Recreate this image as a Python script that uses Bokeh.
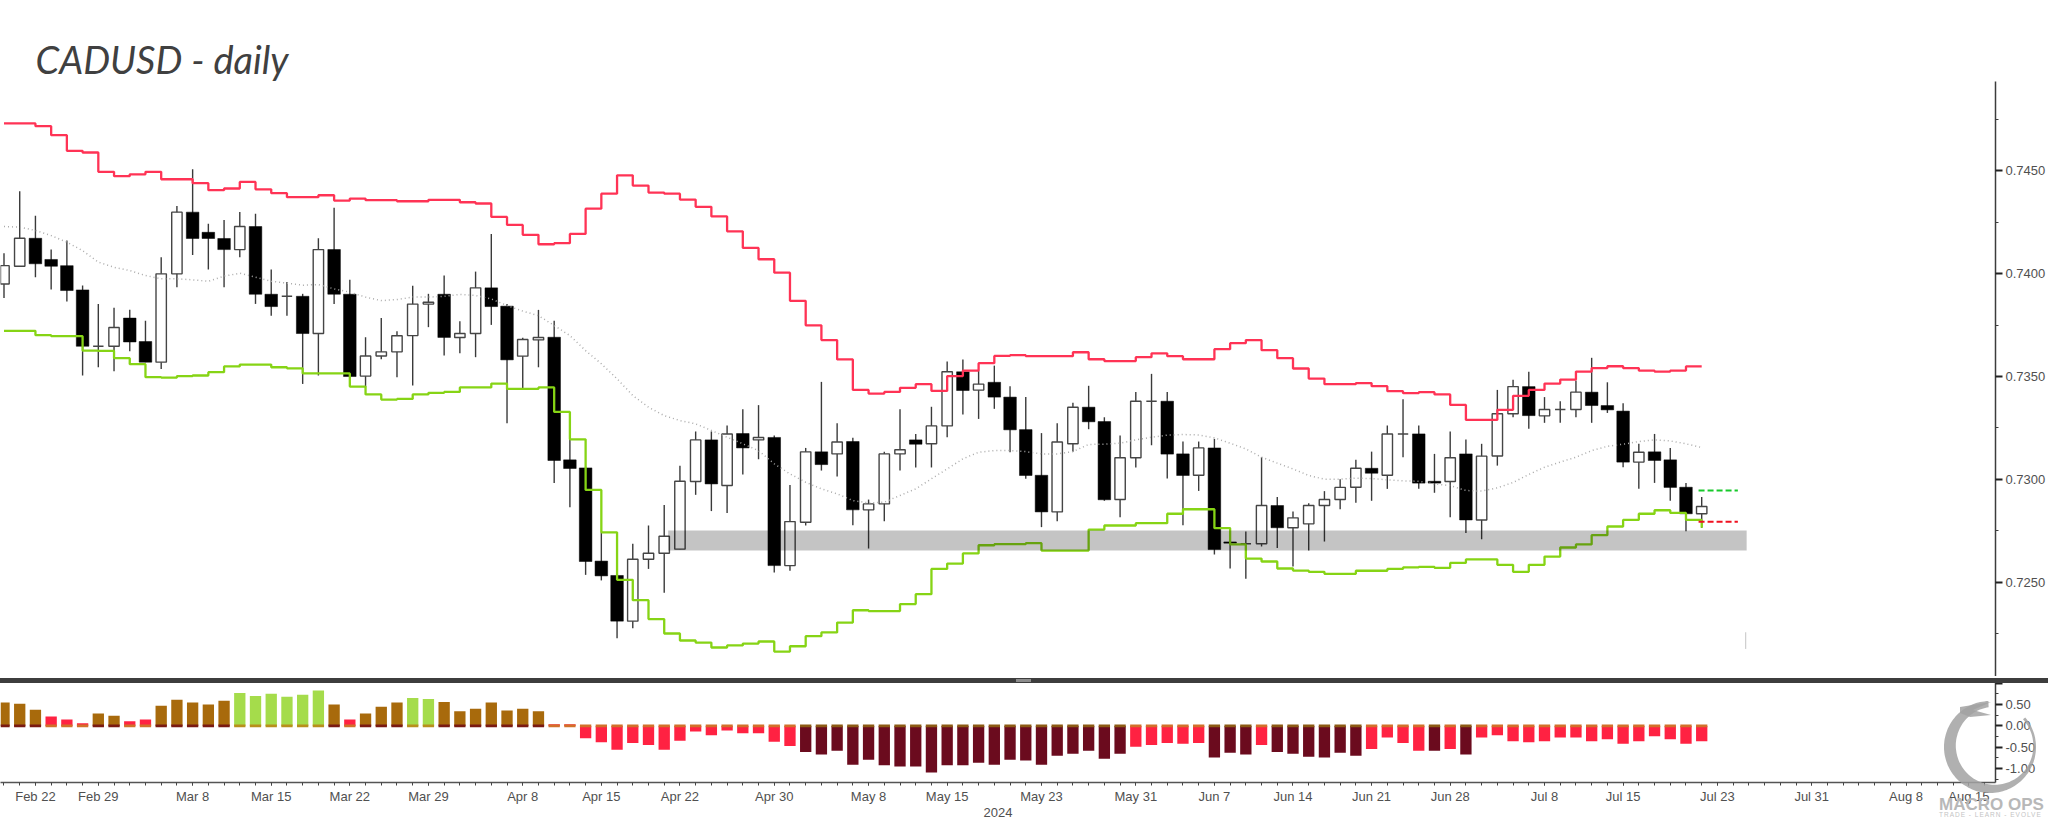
import numpy as np
from bokeh.embed import file_html
from bokeh.resources import INLINE
from bokeh.plotting import figure
from bokeh.layouts import column
from bokeh.models import (ColumnDataSource, FixedTicker, Div, NumeralTickFormatter, Range1d)

# ---------- data ----------
title_text = "CADUSD - daily"

open_ = [.73950,.74036,.74172,.74069,.74039,.73921,.73647,.73647,.73784,.73670,
 .73570,.73999,.74299,.74201,.74171,.74117,.74229,.73900,.73890,.73890,
 .73709,.74117,.73900,.73502,.73600,.73620,.73699,.73852,.73900,.73690,
 .73709,.73931,.73842,.73599,.73678,.73691,.73095,.73056,.72603,.72533,
 .72311,.72612,.72641,.72661,.72990,.73192,.72970,.73223,.73192,.73204,
 .72581,.72792,.73134,.73124,.73184,.72852,.72881,.73124,.73192,.73173,
 .73260,.73523,.73434,.73472,.73400,.73242,.73020,.72842,.73173,.73351,
 .73281,.72902,.73105,.73380,.73380,.73124,.73020,.73153,.72696,.72687,
 .72687,.72873,.72765,.72784,.72873,.72902,.72962,.73054,.73020,.73221,
 .73221,.72991,.72990,.73124,.72803,.73114,.73319,.73451,.73309,.73340,
 .73340,.73424,.73359,.73332,.73084,.73134,.73095,.72962,.72833]
high = [.74099,.74401,.74282,.74117,.74161,.73942,.73853,.73834,.73824,.73771,
 .74080,.74329,.74508,.74242,.74261,.74300,.74291,.74020,.73960,.73902,
 .74172,.74320,.73971,.73691,.73784,.73720,.73941,.73902,.73991,.73769,
 .74010,.74193,.73853,.73688,.73824,.73771,.73197,.73062,.72743,.72533,
 .72687,.72776,.72876,.73066,.73233,.73233,.73262,.73341,.73361,.73213,
 .72973,.73153,.73474,.73273,.73202,.72902,.73135,.73341,.73221,.73353,
 .73573,.73583,.73529,.73553,.73453,.73400,.73225,.73273,.73372,.73455,
 .73302,.73213,.73425,.73513,.73425,.73184,.73184,.73197,.72765,.72747,
 .73108,.72914,.72844,.72884,.72943,.73001,.73095,.73135,.73262,.73390,
 .73262,.73124,.73233,.73194,.73173,.73435,.73484,.73523,.73400,.73380,
 .73481,.73591,.73472,.73370,.73173,.73221,.73153,.72983,.72914]
low = [.73882,.74035,.73983,.73923,.73865,.73505,.73545,.73526,.73623,.73570,
 .73536,.73934,.74091,.74020,.73934,.74080,.73853,.73795,.73795,.73464,
 .73505,.73853,.73500,.73448,.73584,.73497,.73456,.73740,.73602,.73613,
 .73594,.73751,.73273,.73443,.73545,.72983,.72865,.72536,.72509,.72228,
 .72277,.72565,.72449,.72661,.72925,.72846,.72837,.73024,.73098,.72547,
 .72556,.72776,.73043,.73014,.72777,.72664,.72797,.73043,.73058,.73058,
 .73205,.73315,.73294,.73343,.73132,.73003,.72768,.72797,.73134,.73244,
 .72896,.72816,.73058,.73166,.73004,.72777,.72944,.72635,.72567,.72517,
 .72674,.72666,.72577,.72654,.72698,.72855,.72886,.72896,.72954,.73108,
 .72954,.72935,.72816,.72739,.72709,.73067,.73302,.73246,.73275,.73275,
 .73302,.73275,.73323,.73059,.72954,.72983,.72896,.72748,.72765]
close = [.74039,.74172,.74048,.74036,.73918,.73647,.73647,.73738,.73668,.73570,
 .73999,.74299,.74171,.74171,.74117,.74229,.73900,.73840,.73890,.73709,
 .74117,.73900,.73500,.73600,.73620,.73698,.73852,.73861,.73690,.73709,
 .73931,.73840,.73581,.73680,.73690,.73092,.73053,.72601,.72531,.72311,
 .72612,.72641,.72724,.72991,.73192,.72978,.73221,.73153,.73204,.72581,
 .72795,.73134,.73072,.73182,.72852,.72881,.73124,.73144,.73171,.73260,
 .73523,.73432,.73463,.73400,.73241,.73019,.72842,.73182,.73351,.73280,
 .72901,.73105,.73380,.73380,.73123,.73019,.73153,.72659,.72690,.72687,
 .72873,.72765,.72813,.72873,.72902,.72961,.73054,.73030,.73221,.73221,
 .72982,.72982,.73105,.72803,.73113,.73319,.73451,.73310,.73340,.73340,
 .73424,.73359,.73338,.73084,.73132,.73092,.72961,.72833,.72868]
upper = [.74730,.74730,.74717,.74673,.74597,.74589,.74495,.74474,.74483,.74495,
 .74459,.74459,.74440,.74406,.74414,.74446,.74410,.74391,.74372,.74372,
 .74381,.74355,.74365,.74357,.74357,.74352,.74352,.74359,.74359,.74347,
 .74341,.74276,.74237,.74189,.74143,.74148,.74193,.74316,.74389,.74478,
 .74428,.74394,.74389,.74360,.74325,.74278,.74206,.74125,.74070,.74005,
 .73868,.73749,.73677,.73583,.73435,.73417,.73425,.73445,.73463,.73430,
 .73502,.73529,.73565,.73600,.73604,.73599,.73599,.73599,.73618,.73584,
 .73575,.73575,.73594,.73613,.73599,.73584,.73584,.73633,.73662,.73677,
 .73628,.73589,.73539,.73490,.73463,.73463,.73468,.73453,.73429,.73419,
 .73424,.73413,.73362,.73289,.73289,.73338,.73406,.73435,.73466,.73485,
 .73524,.73541,.73550,.73541,.73529,.73524,.73529,.73549,.73549]
lower = [.73722,.73722,.73701,.73696,.73696,.73626,.73625,.73589,.73560,.73497,
 .73495,.73502,.73505,.73521,.73549,.73558,.73558,.73545,.73540,.73515,
 .73515,.73515,.73451,.73413,.73388,.73391,.73413,.73421,.73425,.73447,
 .73447,.73466,.73440,.73440,.73447,.73328,.73195,.72949,.72743,.72512,
 .72413,.72321,.72251,.72217,.72207,.72183,.72193,.72202,.72212,.72163,
 .72189,.72238,.72256,.72304,.72364,.72360,.72360,.72394,.72442,.72565,
 .72591,.72640,.72680,.72685,.72685,.72690,.72654,.72654,.72654,.72756,
 .72776,.72776,.72787,.72787,.72833,.72855,.72855,.72763,.72684,.72615,
 .72601,.72567,.72557,.72551,.72541,.72541,.72556,.72556,.72565,.72572,
 .72575,.72570,.72594,.72611,.72611,.72585,.72551,.72585,.72625,.72669,
 .72684,.72729,.72771,.72803,.72833,.72850,.72837,.72803,.72765]
middle = [.74229,.74226,.74210,.74185,.74153,.74112,.74056,.74031,.74015,.73991,
 .73975,.73975,.73970,.73963,.73988,.74002,.73983,.73963,.73954,.73944,
 .73947,.73926,.73910,.73886,.73869,.73874,.73886,.73886,.73890,.73899,
 .73894,.73877,.73845,.73818,.73796,.73748,.73699,.73626,.73562,.73489,
 .73408,.73351,.73310,.73286,.73270,.73238,.73205,.73173,.73140,.73076,
 .73027,.72986,.72954,.72930,.72897,.72886,.72889,.72922,.72954,.73003,
 .73051,.73100,.73132,.73140,.73140,.73135,.73124,.73124,.73135,.73170,
 .73171,.73176,.73192,.73205,.73215,.73218,.73216,.73202,.73176,.73148,
 .73108,.73079,.73051,.73019,.73001,.73001,.73006,.73004,.72998,.72993,
 .72991,.72978,.72970,.72946,.72943,.72959,.72985,.73024,.73059,.73084,
 .73108,.73140,.73161,.73171,.73184,.73192,.73187,.73173,.73155]
osc = [.55,.52,.38,.22,.15,.06,.29,.24,.11,.15,.47,.61,.55,.50,.59,.77,.70,.75,.68,.73,
 .83,.50,.15,.29,.45,.55,.65,.63,.56,.34,.40,.55,.36,.40,.34,.04,.04,-.29,-.38,-.56,
 -.40,-.45,-.56,-.35,-.13,-.22,-.11,-.17,-.17,-.37,-.47,-.61,-.67,-.58,-.91,-.79,-.92,-.95,-.95,-1.09,
 -.92,-.92,-.86,-.91,-.79,-.81,-.91,-.70,-.65,-.58,-.77,-.65,-.49,-.45,-.40,-.42,-.40,-.74,-.63,-.67,
 -.45,-.61,-.65,-.72,-.74,-.63,-.70,-.54,-.27,-.40,-.58,-.58,-.54,-.67,-.27,-.22,-.36,-.38,-.36,-.27,
 -.27,-.36,-.31,-.42,-.36,-.24,-.31,-.42,-.36]
osc_state = ("BBBRRRBBRRBBBBBGGGGGGBRBBBGGBBBBBBB" + "R"*16 + "D"*21 + "R"*5 + "DDD" + "R"
             + "D"*6 + "RRRR" + "D" + "R" + "D" + "R"*15)

date_ticks = [2,6,12,17,22,27,33,38,43,49,55,60,66,72,77,82,87,92,98,103,109,115,121,125]
date_labels = ["Feb 22","Feb 29","Mar 8","Mar 15","Mar 22","Mar 29","Apr 8","Apr 15","Apr 22",
               "Apr 30","May 8","May 15","May 23","May 31","Jun 7","Jun 14","Jun 21","Jun 28",
               "Jul 8","Jul 15","Jul 23","Jul 31","Aug 8","Aug 15"]
year_label = "2024"
price_major = [.7250,.7300,.7350,.7400,.7450]
price_minor = [.7225,.7275,.7325,.7375,.7425,.7475]
osc_major = [1.0,.5,0.0,-.5,-1.0]
osc_minor = [.75,.25,-.25,-.75,-1.25]

zone_low, zone_high = .72654, .72752
zone_start, zone_end = 42.25, 110.86
stop_up, stop_down = .72946, .72794
stop_start, stop_end = 107.8, 110.3
marker_x, marker_low, marker_high = 110.8, .72176, .72257

# ---------- styles ----------
RED = "#FF3355"; GREEN = "#86D415"
FONT = "Liberation Sans"; AX = "#3c3c3c"; TXT = "#505050"
STATE_FILL = {"B": "#A86A0C", "G": "#A5DC4B", "R": "#FF2242", "D": "#6B0B1E"}
STATE_EDGE = {"B": "#7A1A12", "G": "#B8901C", "R": "#D2702A", "D": "#8C5A14"}

x = list(range(len(close)))
x_lo, x_hi = -0.2225, 126.69

# ---------- price panel ----------
p = figure(width=2048, height=676, output_backend="svg", toolbar_location=None,
           x_range=Range1d(x_lo, x_hi), y_range=Range1d(.72042, .74934),
           x_axis_location=None, y_axis_location="right",
           min_border_left=0, min_border_right=52, min_border_top=81, min_border_bottom=0,
           outline_line_color=None, background_fill_color="white", border_fill_color="white",
           title=title_text)
p.grid.visible = False
p.title.text_font = "Lato"; p.title.text_font_style = "italic"; p.title.text_font_size = "38px"
p.title.text_color = "#404040"; p.title.offset = 35; p.title.standoff = 0
p.title.align = "left"

ya = p.yaxis[0]
ya.ticker = FixedTicker(ticks=price_major, minor_ticks=price_minor)
ya.formatter = NumeralTickFormatter(format="0.0000")
ya.axis_line_color = AX; ya.axis_line_width = 1.5
ya.major_tick_line_color = "#222222"; ya.major_tick_line_width = 2
ya.major_tick_out = 7; ya.major_tick_in = 0
ya.minor_tick_line_color = AX; ya.minor_tick_out = 3; ya.minor_tick_in = 0
ya.major_label_text_font = FONT; ya.major_label_text_font_size = "13px"
ya.major_label_text_color = TXT; ya.major_label_standoff = 3

src = ColumnDataSource(dict(x=x, o=open_, h=high, l=low, c=close))
p.segment("x", "h", "x", "l", source=src, line_color="#3a3a3a", line_width=1.4)
up = [i for i in x if close[i] >= open_[i]]
dn = [i for i in x if close[i] < open_[i]]
p.vbar([x[i] for i in up], 0.66, [close[i] for i in up], [open_[i] for i in up],
       fill_color="white", line_color="#454545", line_width=1.4)
p.vbar([x[i] for i in dn], 0.80, [open_[i] for i in dn], [close[i] for i in dn],
       fill_color="black", line_color="black", line_width=0.5)

p.line(x, middle, line_color="#ababab", line_width=1.5, line_dash="1 3")
p.step(x, upper, mode="after", line_color=RED, line_width=2.3)
p.step(x, lower, mode="after", line_color=GREEN, line_width=2.3)
p.segment([stop_start], [stop_up], [stop_end], [stop_up], line_color="#17C92B", line_width=2, line_dash="6 3")
p.segment([stop_start], [stop_down], [stop_end], [stop_down], line_color="#F0101F", line_width=2, line_dash="6 3")
p.segment([marker_x], [marker_low], [marker_x], [marker_high], line_color="#c4c4c4", line_width=1)
p.quad(left=[zone_start], right=[zone_end], bottom=[zone_low], top=[zone_high],
       fill_color="black", fill_alpha=0.232, line_color=None)

# ---------- separator, carrying the watermark over the lower panel ----------
theta = np.radians(np.linspace(92, 400, 120))
cx, cy, R = 1990.0, 69.0, 46.0
w = 2.5 + 9.5 * (1 + np.cos(theta - np.radians(195))) / 2
ox = cx + R * np.cos(theta); oy = cy - R * np.sin(theta)
ix = cx + (R - w) * np.cos(theta); iy = cy - (R - w) * np.sin(theta)
ring = list(zip(ox, oy)) + list(zip(ix[::-1], iy[::-1]))
ring_d = "M" + " L".join(f"{a:.1f} {b:.1f}" for a, b in ring) + " Z"
head_d = "M1960 29 L1991 24 L1973 32 L1991 37 L1970 39 L1960 35 Z"
sep_html = (
    '<div style="position:relative;top:-5px;width:2048px;height:5px;background:#3d3d3d">'
    '<div style="position:absolute;left:1016px;top:1px;width:15px;height:3px;background:#8c8c8c"></div>'
    '<svg width="2048" height="143" style="position:absolute;left:0;top:0;overflow:visible;pointer-events:none">'
    f'<path d="{ring_d}" fill="#a2a2a2" fill-opacity="0.85"/>'
    f'<path d="{head_d}" fill="#a2a2a2" fill-opacity="0.85"/>'
    '<text x="1939" y="132" font-family="Liberation Serif" font-size="17" font-weight="bold" fill="#b8b8b8">MACRO OPS</text>'
    '<text x="1939" y="139" font-family="Liberation Sans" font-size="6.5" letter-spacing="1" fill="#c4c4c4">TRADE - LEARN - EVOLVE</text>'
    '</svg></div>')
sep = Div(width=2048, height=5, margin=0, text=sep_html,
          styles={"z-index": "10", "position": "relative", "overflow": "visible"})

# ---------- oscillator panel ----------
q = figure(width=2048, height=138, output_backend="svg", toolbar_location=None,
           x_range=Range1d(x_lo, x_hi), y_range=Range1d(-1.325, 1.039),
           x_axis_location="below", y_axis_location="right",
           min_border_left=0, min_border_right=52, min_border_top=0, min_border_bottom=34,
           outline_line_color=None, background_fill_color="white", border_fill_color="white")
q.grid.visible = False
fills = [STATE_FILL[s] for s in osc_state]
edges = [STATE_EDGE[s] for s in osc_state]
q.vbar(x, 0.72, [max(v, 0) for v in osc], [min(v, 0) for v in osc], fill_color=fills, line_color=None)
q.vbar(x, 0.72, [0.03]*len(x), [-0.03]*len(x), fill_color=edges, line_color=None)

qy = q.yaxis[0]
qy.ticker = FixedTicker(ticks=osc_major, minor_ticks=osc_minor)
qy.formatter = NumeralTickFormatter(format="0.00")
qy.major_label_overrides = {1.0: " "}
qy.axis_line_color = AX; qy.axis_line_width = 1.5
qy.major_tick_line_color = "#222222"; qy.major_tick_line_width = 2
qy.major_tick_out = 7; qy.major_tick_in = 0
qy.minor_tick_line_color = AX; qy.minor_tick_out = 3; qy.minor_tick_in = 0
qy.major_label_text_font = FONT; qy.major_label_text_font_size = "13px"
qy.major_label_text_color = TXT; qy.major_label_standoff = 3

qx = q.xaxis[0]
qx.ticker = FixedTicker(ticks=date_ticks, minor_ticks=list(range(0, 127)))
qx.major_label_overrides = dict(zip(date_ticks, date_labels))
qx.axis_line_color = "#555555"; qx.axis_line_width = 1.5
qx.major_tick_line_color = "#444444"; qx.major_tick_out = 3; qx.major_tick_in = 0
qx.minor_tick_line_color = "#444444"; qx.minor_tick_out = 3; qx.minor_tick_in = 0
qx.major_label_text_font = FONT; qx.major_label_text_font_size = "13px"
qx.major_label_text_color = TXT; qx.major_label_standoff = 3
qx.axis_label = year_label
qx.axis_label_text_font = FONT; qx.axis_label_text_font_size = "13px"
qx.axis_label_text_color = TXT; qx.axis_label_text_font_style = "normal"
qx.axis_label_standoff = 1

page = column(p, sep, q, spacing=0)
open("out.html", "w").write(file_html(page, INLINE))
